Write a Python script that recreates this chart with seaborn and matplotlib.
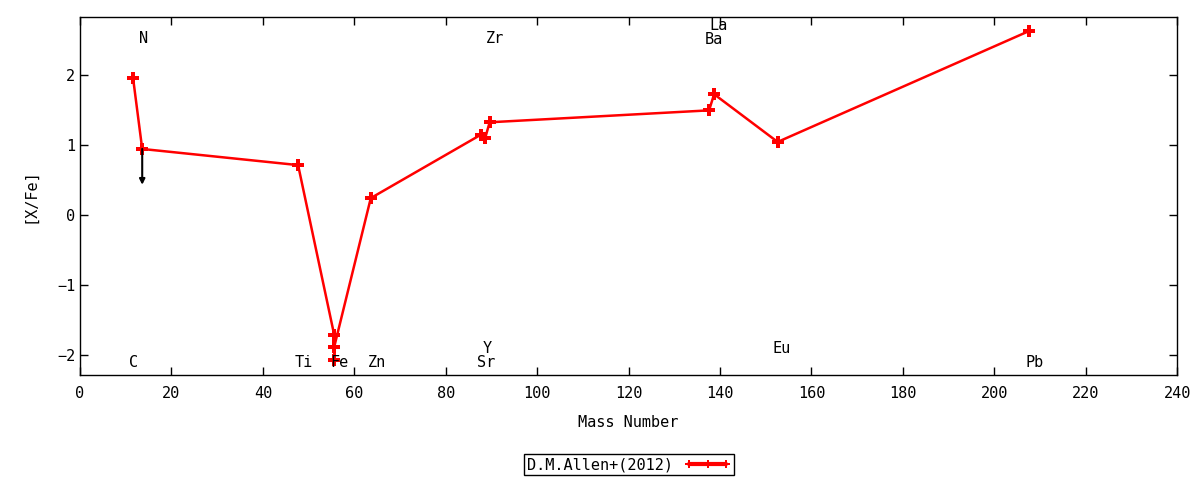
import matplotlib
matplotlib.use("Agg")
import matplotlib.pyplot as plt
import seaborn as sns
import pandas as pd

# abundance pattern (order as connected in the plot)
mass = [11.6, 13.6, 47.7, 55.6, 55.6, 55.6, 63.6, 87.6, 88.6, 89.6, 137.6, 138.7, 152.6, 207.6]
xfe = [1.95, 0.94, 0.71, -1.71, -2.06, -1.88, 0.24, 1.14, 1.09, 1.32, 1.49, 1.72, 1.04, 2.62]

# element labels
label_names = ["C", "N", "Ti", "Fe", "Zn", "Sr", "Y", "Zr", "Ba", "La", "Eu", "Pb"]
label_x = [11.8, 13.9, 49.0, 56.8, 64.9, 88.8, 89.1, 90.8, 138.7, 139.7, 153.5, 208.8]
label_y = [-2.1, 2.52, -2.1, -2.1, -2.1, -2.1, -1.9, 2.52, 2.5, 2.7, -1.9, -2.1]

# upper limit for N
limit_x = 13.6
limit_top = 0.94
limit_bottom = 0.43

df = pd.DataFrame({"Mass Number": mass, "[X/Fe]": xfe})

sns.set_theme(style="ticks")
plt.rcParams["font.family"] = ["DejaVu Sans Mono"]

fig = plt.figure(figsize=(12, 4.8), dpi=100)
ax = fig.add_axes([0.0667, 0.2188, 0.9143, 0.7458])

sns.lineplot(data=df, x="Mass Number", y="[X/Fe]", sort=False, estimator=None,
             color="red", linewidth=1.8, marker="P", markersize=8,
             markeredgewidth=0, label="D.M.Allen+(2012)", ax=ax)

ax.annotate("", xy=(limit_x, limit_bottom), xytext=(limit_x, limit_top),
            arrowprops=dict(arrowstyle="-|>", color="black", lw=1.5,
                            mutation_scale=8, shrinkA=0, shrinkB=0))

for name, lx, ly in zip(label_names, label_x, label_y):
    ax.text(lx, ly, name, ha="center", va="center", fontsize=11, color="black")

ax.set_xlim(0, 240)
ax.set_ylim(-2.28, 2.82)
ax.set_xticks(range(0, 241, 20))
ax.set_yticks([-2, -1, 0, 1, 2])
ax.tick_params(direction="in", top=True, right=True, length=6, labelsize=11,
               colors="black", width=1)
ax.tick_params(axis="x", pad=8)
for s in ax.spines.values():
    s.set_color("black")
    s.set_linewidth(1)
ax.set_xlabel("Mass Number", fontsize=11, labelpad=10, color="black")
ax.set_ylabel("[X/Fe]", fontsize=11, labelpad=14, color="black")

leg = ax.legend(loc="center", bbox_to_anchor=(0.5, -0.251), frameon=True,
                fancybox=False, markerfirst=False, numpoints=3, fontsize=11,
                handlelength=3, borderpad=0.2, edgecolor="black",
                framealpha=1, markerscale=0.8)
leg.get_frame().set_linewidth(1)
for t in leg.get_texts():
    t.set_color("black")
for ln in leg.get_lines():
    ln.set_linewidth(3)

fig.savefig("out.png", dpi=100)
